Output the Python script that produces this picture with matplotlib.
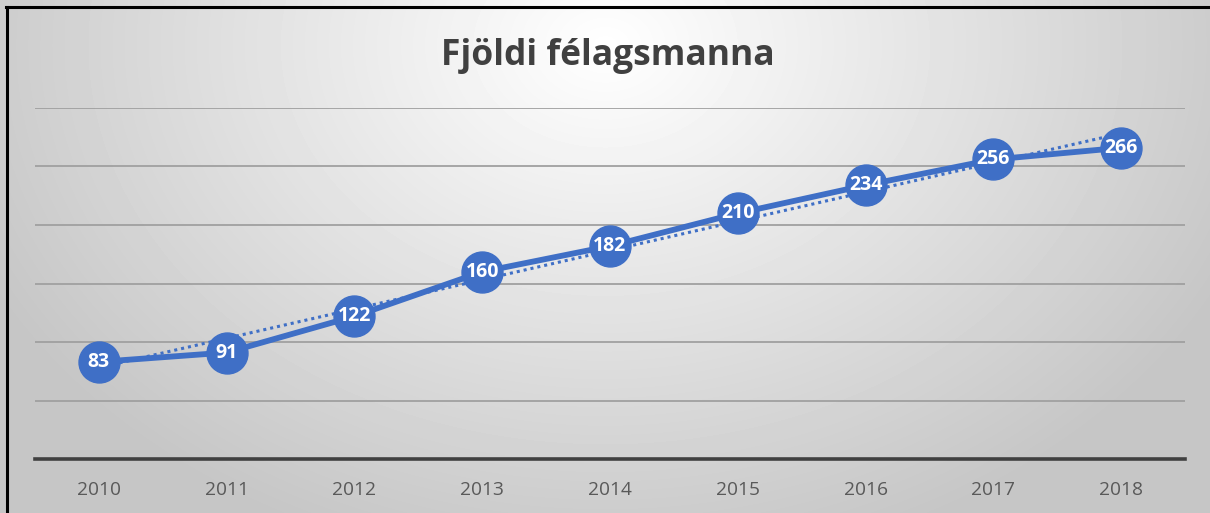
import numpy as np
import matplotlib
matplotlib.use("Agg")
import matplotlib.pyplot as plt
from matplotlib.lines import Line2D

years = ["2010", "2011", "2012", "2013", "2014", "2015", "2016", "2017", "2018"]
members = [83, 91, 122, 160, 182, 210, 234, 256, 266]
title = "Fjöldi félagsmanna"

W, H = 1210, 513
fig = plt.figure(figsize=(W / 100, H / 100), dpi=100)

# radial gradient background
bg = fig.add_axes([0, 0, 1, 1], zorder=0)
yy, xx = np.mgrid[0:H, 0:W]
r = np.sqrt(((xx - 605) / 700.0) ** 2 + ((yy - 45) / 540.0) ** 2)
val = np.clip(255 - 58 * r, 198, 255) / 255.0
bg.imshow(val, cmap="gray", vmin=0, vmax=1, extent=[0, W, H, 0], aspect="auto", interpolation="bilinear")
bg.set_xlim(0, W)
bg.set_ylim(H, 0)
bg.axis("off")

# frame lines (top and left)
fig.add_artist(Line2D([7 / W, 7 / W], [0, 1 - 6.5 / H], transform=fig.transFigure, color="black", lw=2.2))
fig.add_artist(Line2D([6 / W, 1], [1 - 6.5 / H, 1 - 6.5 / H], transform=fig.transFigure, color="black", lw=2.2))

ax = fig.add_axes([35 / W, (H - 459) / H, 1150 / W, (459 - 108) / H], zorder=1)
ax.patch.set_alpha(0)
x = np.arange(len(years))
ax.set_xlim(-0.5, len(years) - 0.5)
ax.set_ylim(0, 300)
ax.set_yticks(np.arange(50, 301, 50))
ax.yaxis.grid(True, color="#a0a0a0", lw=1.3)
ax.set_axisbelow(True)
for s in ["top", "right", "left"]:
    ax.spines[s].set_visible(False)
ax.spines["bottom"].set_color("#404040")
ax.spines["bottom"].set_linewidth(2.6)
ax.tick_params(axis="y", left=False, labelleft=False)
ax.tick_params(axis="x", bottom=False, pad=12, labelsize=13.8, labelcolor="#595959")
ax.set_xticks(x)
ax.set_xticklabels(years, fontfamily="Open Sans")

blue = "#3F6FC6"
# linear trendline
coef = np.polyfit(x, members, 1)
ax.plot(x, np.polyval(coef, x), color=blue, lw=2.2, ls=(0, (1, 1.3)), zorder=2, clip_on=False)
ax.plot(x, members, color=blue, lw=4.2, marker="o", markersize=29.5, markerfacecolor=blue,
        markeredgecolor=blue, zorder=3, clip_on=False)
for xi, v in zip(x, members):
    ax.text(xi, v, str(v), ha="center", va="center", color="white", fontsize=14,
            fontweight="bold", fontfamily="Open Sans", zorder=4)

fig.text(608 / W, 1 - 56 / H, title, ha="center", va="center", fontsize=25.5, fontweight="bold",
         color="#404040", fontfamily="Open Sans")

fig.savefig("out.png", dpi=100)
